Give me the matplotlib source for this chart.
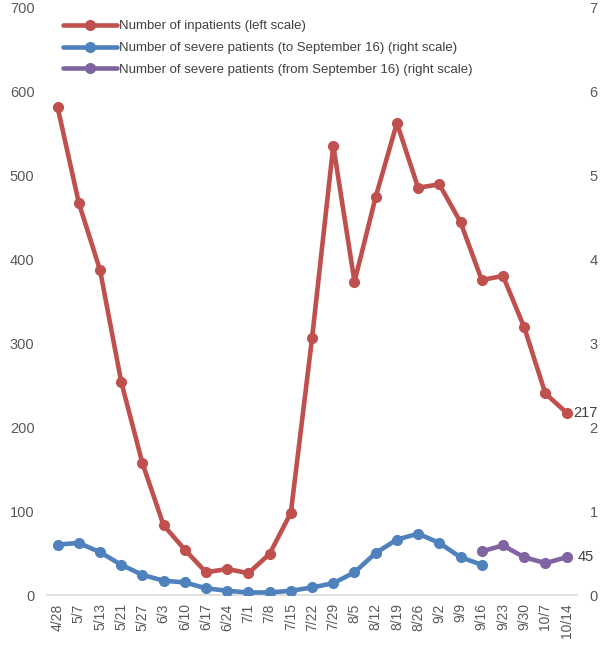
import matplotlib
matplotlib.use("Agg")
import matplotlib.pyplot as plt
from matplotlib import font_manager

dates = ["4/28", "5/7", "5/13", "5/21", "5/27", "6/3", "6/10", "6/17", "6/24", "7/1",
         "7/8", "7/15", "7/22", "7/29", "8/5", "8/12", "8/19", "8/26", "9/2", "9/9",
         "9/16", "9/23", "9/30", "10/7", "10/14"]
inpatients = [581, 467, 387, 254, 157, 83, 54, 27, 31, 26,
              49, 98, 306, 535, 373, 474, 562, 485, 489, 444,
              375, 380, 319, 240, 217]
severe_to = [60, 62, 51, 36, 24, 17, 15, 8, 5, 3,
             3, 5, 9, 14, 27, 50, 66, 73, 62, 45, 36]
severe_from = [52, 59, 45, 38, 45]
left_ticks = [0, 100, 200, 300, 400, 500, 600, 700]
right_labels = ["0", "1", "2", "3", "4", "5", "6", "7"]

names = {f.name for f in font_manager.fontManager.ttflist}
font = "Liberation Sans Narrow" if "Liberation Sans Narrow" in names else "Liberation Sans"
plt.rcParams['font.family'] = [font, 'DejaVu Sans']

RED, BLUE, PURPLE = "#C0504D", "#4F81BD", "#8064A2"
GRAY = "#595959"

fig = plt.figure(figsize=(6.14, 6.49), dpi=100)
ax = fig.add_axes([0.0765, 0.0832, 0.8635, 0.9058])
ax2 = ax.twinx()

x = list(range(len(dates)))
style = dict(lw=3.3, marker='o', ms=7, solid_capstyle='round', solid_joinstyle='round')
l1, = ax.plot(x, inpatients, color=RED, label="Number of inpatients (left scale)", **style)
l2, = ax2.plot(x[:len(severe_to)], severe_to, color=BLUE,
               label="Number of severe patients (to September 16) (right scale)", **style)
l3, = ax2.plot(x[20:], severe_from, color=PURPLE,
               label="Number of severe patients (from September 16) (right scale)", **style)

for a in (ax, ax2):
    a.set_ylim(0, 700)
    a.set_xlim(-0.5, len(dates) - 0.5)
    for s in a.spines.values():
        s.set_visible(False)
ax.spines['bottom'].set_visible(True)
ax.spines['bottom'].set_color("#D9D9D9")
ax.spines['bottom'].set_linewidth(1.2)

ax.set_yticks(left_ticks)
ax.tick_params(axis='y', length=0, pad=9, labelsize=10.5, labelcolor=GRAY)
ax2.set_yticks(left_ticks)
ax2.set_yticklabels(right_labels)
ax2.tick_params(axis='y', length=0, pad=9, labelsize=10.5, labelcolor=GRAY)

ax.set_xticks(x)
ax.set_xticklabels(dates, rotation=90)
ax.tick_params(axis='x', length=0, pad=6, labelsize=10, labelcolor=GRAY)

ax.annotate(str(inpatients[-1]), (x[-1], inpatients[-1]), xytext=(4.5, 0),
            textcoords='offset points', va='center', ha='left', fontsize=10.5, color="#404040")
ax2.annotate(str(severe_from[-1]), (x[-1], severe_from[-1]), xytext=(8, 0),
             textcoords='offset points', va='center', ha='left', fontsize=10.5, color="#404040")

ax2.legend(handles=[l1, l2, l3], loc='upper left', bbox_to_anchor=(0.007, 0.998),
           frameon=False, fontsize=9.5, handlelength=4.1, handletextpad=0.2,
           labelspacing=0.72, labelcolor="#404040")

fig.savefig("out.png", dpi=100)
